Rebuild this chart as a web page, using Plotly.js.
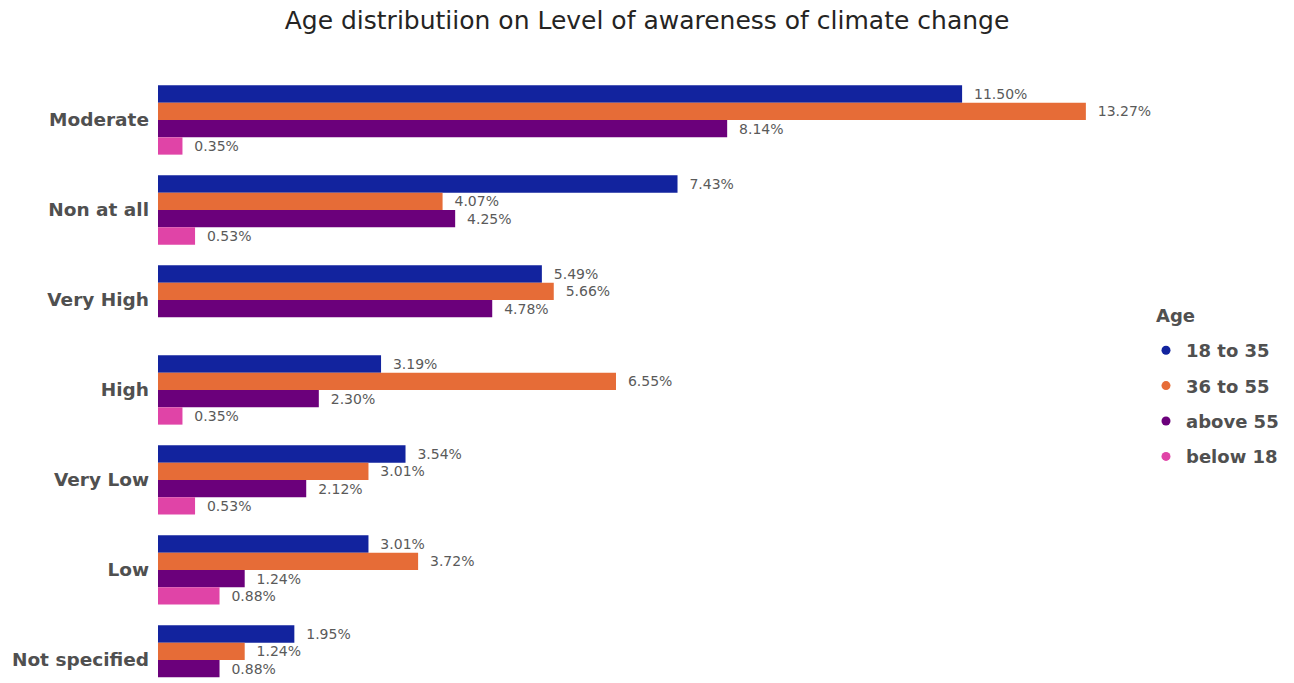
<!DOCTYPE html>
<html>
<head>
<meta charset="utf-8">
<script src="https://cdn.plot.ly/plotly-3.0.1.min.js"></script>
<style>html,body{margin:0;padding:0;background:#fff;}#chart{width:1294px;height:683px;}</style>
</head>
<body>
<div id="chart"></div>
<script>
const categories = ["Moderate", "Non at all", "Very High", "High", "Very Low", "Low", "Not specified"];
const seriesNames = ["18 to 35", "36 to 55", "above 55", "below 18"];
const age18to35 = [11.50, 7.43, 5.49, 3.19, 3.54, 3.01, 1.95];
const age36to55 = [13.27, 4.07, 5.66, 6.55, 3.01, 3.72, 1.24];
const above55 = [8.14, 4.25, 4.78, 2.30, 2.12, 1.24, 0.88];
const below18 = [0.35, 0.53, null, 0.35, 0.53, 0.88, null];
const seriesValues = [age18to35, age36to55, above55, below18];
const colors = ["#12239E", "#E66C37", "#6B007B", "#E044A7"];

const traces = [];
seriesValues.forEach((vals, i) => {
  traces.push({
    type: 'bar', orientation: 'h',
    name: seriesNames[i], legendgroup: seriesNames[i], showlegend: false,
    x: vals, y: categories,
    marker: {color: colors[i]},
    texttemplate: '\u00a0\u00a0%{x:.2f}%', textposition: 'outside',
    textfont: {family: 'DejaVu Sans', size: 14, color: '#5a5a5a'},
    cliponaxis: false,
    hoverinfo: 'x+name'
  });
});
seriesNames.forEach((n, i) => {
  traces.push({
    type: 'scatter', mode: 'markers', name: n, legendgroup: n,
    x: [null], y: [null],
    marker: {color: colors[i], size: 9, symbol: 'circle'},
    showlegend: true
  });
});

const layout = {
  width: 1294, height: 683,
  paper_bgcolor: '#ffffff', plot_bgcolor: '#ffffff',
  margin: {l: 158, r: 144, t: 75, b: 0},
  title: {
    text: 'Age distributiion on Level of awareness of climate change',
    font: {family: 'DejaVu Sans', size: 25, color: '#252423'},
    x: 0.5, xanchor: 'center', y: 1 - 20/683, yanchor: 'middle', yref: 'container'
  },
  barmode: 'group', bargap: 0.23, bargroupgap: 0,
  xaxis: {range: [0, 14.13], visible: false, showgrid: false, zeroline: false, fixedrange: true},
  yaxis: {
    type: 'category', categoryorder: 'array', categoryarray: categories,
    range: [6.256, -0.5], showgrid: false, zeroline: false, showline: false, ticks: '',
    ticklabelstandoff: 8,
    tickfont: {family: 'DejaVu Sans', size: 18.5, color: '#505050', weight: 700}
  },
  annotations: [{
    text: 'Age', xref: 'paper', yref: 'paper', showarrow: false,
    x: (1158 - 158) / 992, xanchor: 'left',
    y: (683 - 315) / 608, yanchor: 'middle',
    font: {family: 'DejaVu Sans', size: 18, color: '#505050', weight: 700}
  }],
  showlegend: true,
  legend: {
    xref: 'container', yref: 'container',
    x: 1146/1294, y: 1 - 332/683, xanchor: 'left', yanchor: 'top',
    font: {family: 'DejaVu Sans', size: 18, color: '#505050', weight: 700},
    tracegroupgap: 9, itemwidth: 30, bgcolor: 'rgba(0,0,0,0)'
  }
};

Plotly.newPlot('chart', traces, layout, {displayModeBar: false, staticPlot: true});
</script>
</body>
</html>
